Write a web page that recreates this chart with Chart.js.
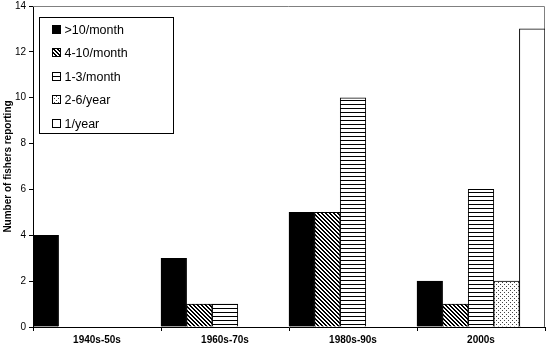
<!DOCTYPE html>
<html>
<head>
<meta charset="utf-8">
<script src="https://cdn.jsdelivr.net/npm/chart.js@4.4.0/dist/chart.umd.min.js"></script>
<style>
  body { margin: 0; background: #fff; }
  #wrap { width: 550px; height: 350px; }
</style>
</head>
<body>
<div id="wrap"><canvas id="fishChart"></canvas></div>
<script>
const decades = ['1940s-50s', '1960s-70s', '1980s-90s', '2000s'];
const seriesNames = ['>10/month', '4-10/month', '1-3/month', '2-6/year', '1/year'];
const over10Month = [4, 3, 5, 2];
const month4to10 = [null, 1, 5, 1];
const month1to3 = [null, 1, 10, 6];
const year2to6 = [null, null, null, 2];
const oncePerYear = [null, null, null, 13];
const yMin = 0, yMax = 14, yStep = 2;

const canvas = document.getElementById('fishChart');
const ctx = canvas.getContext('2d');

// small tiles for the excel-like fill patterns
function makePattern(w, h, paint) {
  const c = document.createElement('canvas');
  c.width = w; c.height = h;
  const g = c.getContext('2d');
  g.fillStyle = '#fff';
  g.fillRect(0, 0, w, h);
  g.fillStyle = '#000';
  paint(g);
  return ctx.createPattern(c, 'repeat');
}

const diagFill = makePattern(4, 4, g => {
  for (let i = 0; i < 4; i++) {
    g.fillRect(i, i, 1, 1);
    g.fillRect((i + 1) % 4, i, 1, 1);
  }
});
const horizFill = makePattern(4, 4, g => {
  g.fillRect(0, 0, 4, 1);
});
const dotFill = makePattern(4, 4, g => {
  g.fillStyle = '#444';
  g.fillRect(0, 0, 1, 1);
  g.fillRect(2, 2, 1, 1);
});

const fills = ['#000', diagFill, horizFill, dotFill, '#fff'];
const values = [over10Month, month4to10, month1to3, year2to6, oncePerYear];

const plotFrame = {
  id: 'plotFrame',
  beforeDatasetsDraw(chart) {
    const { ctx, chartArea } = chart;
    ctx.save();
    ctx.strokeStyle = '#808080';
    ctx.lineWidth = 1;
    ctx.beginPath();
    ctx.moveTo(chartArea.left, Math.round(chartArea.top) + 0.5);
    ctx.lineTo(Math.round(chartArea.right) - 0.5, Math.round(chartArea.top) + 0.5);
    ctx.lineTo(Math.round(chartArea.right) - 0.5, chartArea.bottom);
    ctx.stroke();
    ctx.restore();
  }
};

const boxedLegend = {
  id: 'boxedLegend',
  afterDraw(chart) {
    const { ctx, chartArea } = chart;
    const x0 = Math.round(chartArea.left) + 6.5;
    const y0 = Math.round(chartArea.top) + 11.5;
    ctx.save();
    ctx.fillStyle = '#fff';
    ctx.fillRect(x0, y0, 134, 116);
    ctx.strokeStyle = '#000';
    ctx.lineWidth = 1;
    ctx.strokeRect(x0, y0, 134, 116);
    ctx.font = '12.5px "Liberation Sans", Arial, sans-serif';
    ctx.textBaseline = 'middle';
    chart.data.datasets.forEach((ds, i) => {
      const cy = Math.round(y0 + 12 + i * 23.5);
      ctx.fillStyle = ds.backgroundColor;
      ctx.fillRect(x0 + 13, cy - 4.5, 8, 8);
      ctx.strokeRect(x0 + 13, cy - 4.5, 8, 8);
      ctx.fillStyle = '#000';
      ctx.fillText(ds.label, x0 + 25, cy + 1);
    });
    ctx.restore();
  }
};

new Chart(ctx, {
  type: 'bar',
  data: {
    labels: decades,
    datasets: seriesNames.map((name, i) => ({
      label: name,
      data: values[i],
      backgroundColor: fills[i],
      borderColor: '#000',
      borderWidth: 1,
      categoryPercentage: 1,
      barPercentage: 1
    }))
  },
  options: {
    responsive: true,
    maintainAspectRatio: false,
    animation: false,
    layout: { padding: { top: 6, right: 5, left: 0, bottom: 0 } },
    plugins: {
      legend: { display: false },
      tooltip: { enabled: false }
    },
    scales: {
      x: {
        grid: { drawOnChartArea: false, drawTicks: true, tickLength: 4, color: '#000', offset: true },
        border: { color: '#000', width: 1 },
        ticks: {
          color: '#000',
          padding: 3,
          maxRotation: 0,
          font: { family: '"Liberation Sans", Arial, sans-serif', size: 10, weight: 'bold' }
        },
        afterFit(scale) {
          scale.height = 23;
          scale.paddingLeft = 0;
          scale.paddingRight = 0;
        }
      },
      y: {
        min: yMin,
        max: yMax,
        grid: { drawOnChartArea: false, drawTicks: true, tickLength: 4, color: '#000' },
        border: { color: '#000', width: 1 },
        ticks: {
          stepSize: yStep,
          color: '#000',
          padding: 3,
          font: { family: '"Liberation Sans", Arial, sans-serif', size: 10 }
        },
        title: {
          display: true,
          text: 'Number of fishers reporting',
          color: '#000',
          padding: { top: 2, bottom: 0 },
          font: { family: '"Liberation Sans", Arial, sans-serif', size: 10, weight: 'bold' }
        },
        afterFit(scale) {
          scale.width = 33;
          scale.paddingTop = 0;
          scale.paddingBottom = 0;
        }
      }
    }
  },
  plugins: [plotFrame, boxedLegend]
});
</script>
</body>
</html>
